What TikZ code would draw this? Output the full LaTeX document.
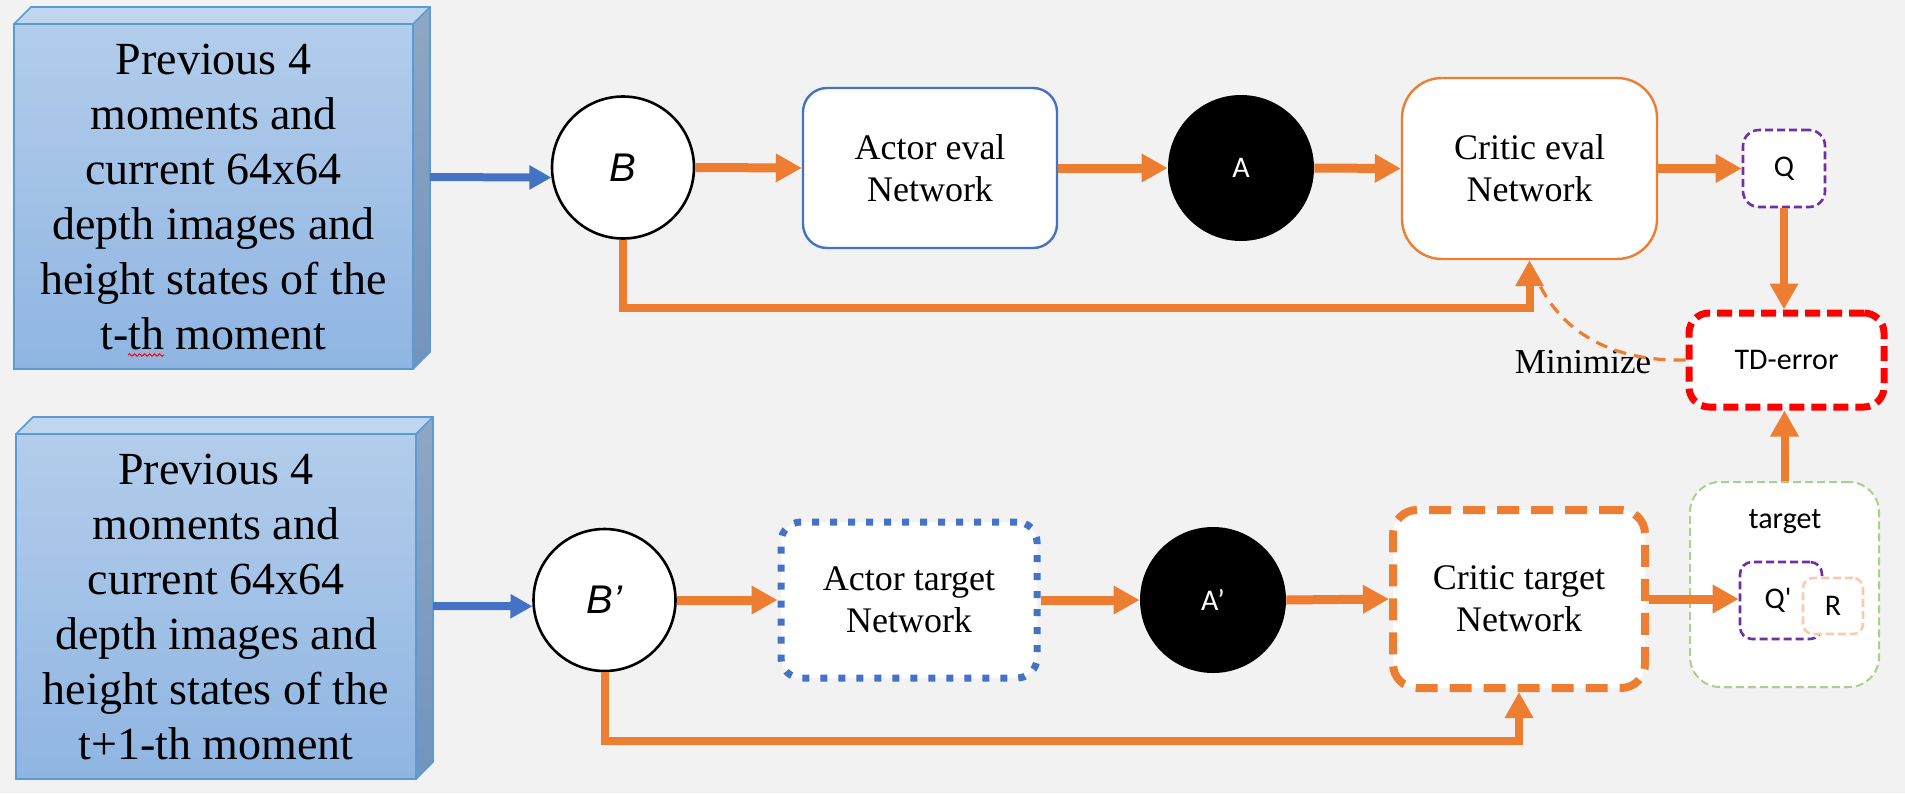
\documentclass[tikz,border=0pt]{standalone}
\usepackage{fontspec}
\setmainfont{Liberation Serif}
\newfontfamily\calib{Carlito}
\newfontfamily\arialf{Liberation Sans}
\usetikzlibrary{arrows.meta,decorations.pathmorphing}
\definecolor{bgc}{HTML}{F2F2F2}
\definecolor{ora}{HTML}{ED7D31}
\definecolor{blu}{HTML}{4472C4}
\definecolor{pur}{HTML}{7030A0}
\definecolor{grn}{HTML}{A9D18E}
\definecolor{pch}{HTML}{F8CBAD}
\definecolor{frontT}{HTML}{B3CDEB}
\definecolor{frontB}{HTML}{8FB5E2}
\definecolor{topF}{HTML}{C0D6EF}
\definecolor{sideT}{HTML}{8EA7C4}
\definecolor{sideB}{HTML}{7294BC}
\definecolor{blkedge}{HTML}{5B9BD5}
\tikzset{
  blocktext/.style={align=center,inner sep=0pt,font=\fontsize{23}{27.5}\selectfont},
  netfont/.style={align=center,font=\fontsize{18}{21}\selectfont},
  sansfont/.style={font=\calib\fontsize{15}{18}\selectfont},
  statenode/.style={circle,draw=black,line width=1.3pt,fill=white,minimum size=71pt,inner sep=0pt,
     font=\arialf\itshape\fontsize{20}{24}\selectfont},
  actnode/.style={circle,fill=black,minimum size=73pt,inner sep=0pt,text=white,
     font=\calib\fontsize{15}{18}\selectfont},
  oarr/.style={draw=ora,line width=4.5pt,-{Triangle[length=13pt,width=13.5pt]}},
  barr/.style={draw=blu,line width=4pt,-{Triangle[length=11pt,width=11.5pt]}},
  oline/.style={draw=ora,line width=4pt},
}
\begin{document}
\begin{tikzpicture}[x=0.5pt,y=-0.5pt]
\fill[bgc] (0,0) rectangle (1905,793);
\useasboundingbox (0,0) rectangle (1905,793);

% ---------- top input block ----------
\shade[top color=frontT,bottom color=frontB] (14,24) rectangle (413,369);
\fill[topF] (14,24) -- (31,7) -- (430,7) -- (413,24) -- cycle;
\shade[top color=sideT,bottom color=sideB] (413,24) -- (430,7) -- (430,352) -- (413,369) -- cycle;
\draw[blkedge,line width=0.8pt] (14,24) rectangle (413,369);
\draw[blkedge,line width=0.8pt] (14,24) -- (31,7) -- (430,7) -- (430,352) -- (413,369);
\draw[blkedge,line width=0.8pt] (413,24) -- (430,7);
\node[blocktext] (txtT) at (213.5,197) {Previous 4\\moments and\\current 64x64\\depth images and\\height states of the\\t-th moment};
\draw[red,line width=0.5pt,decorate,decoration={snake,amplitude=0.6pt,segment length=2.5pt}] (128,355) -- (164,355);
\coordinate (outT) at (430,177);

% ---------- bottom input block ----------
\shade[top color=frontT,bottom color=frontB] (16,434) rectangle (416,779);
\fill[topF] (16,434) -- (33,417) -- (433,417) -- (416,434) -- cycle;
\shade[top color=sideT,bottom color=sideB] (416,434) -- (433,417) -- (433,762) -- (416,779) -- cycle;
\draw[blkedge,line width=0.8pt] (16,434) rectangle (416,779);
\draw[blkedge,line width=0.8pt] (16,434) -- (33,417) -- (433,417) -- (433,762) -- (416,779);
\draw[blkedge,line width=0.8pt] (416,434) -- (433,417);
\node[blocktext] (txtB) at (216,607) {Previous 4\\moments and\\current 64x64\\depth images and\\height states of the\\t+1-th moment};
\coordinate (outB) at (433,606);

% ---------- top row ----------
\node[statenode] (B) at (623,167.5) {B};
\node[draw=blu,line width=1.2pt,fill=white,rounded corners=12pt,minimum width=127pt,minimum height=80pt,netfont] (actE) at (930,168) {Actor eval\\Network};
\node[actnode] (A) at (1241,168) {A};
\node[draw=ora,line width=1.2pt,fill=white,rounded corners=20pt,minimum width=127.5pt,minimum height=90.5pt,netfont] (critE) at (1529.5,168.5) {Critic eval\\Network};
\node[draw=pur,line width=1.3pt,dash pattern=on 4pt off 2pt,fill=white,rounded corners=8pt,minimum width=41pt,minimum height=38.5pt,sansfont] (Q) at (1784,168.5) {Q};
\node[draw=red,line width=3.5pt,dash pattern=on 7.5pt off 3.5pt,fill=white,rounded corners=10pt,minimum width=97.5pt,minimum height=47pt,sansfont] (TD) at (1786.5,360) {TD-error};
\node[anchor=base,font=\fontsize{17.5}{21}\selectfont,inner sep=0pt] (mini) at (1583,373) {Minimize};

% ---------- bottom row ----------
\node[statenode] (Bp) at (604.5,600) {B’};
\node[draw=blu,line width=3.5pt,dash pattern=on 3.5pt off 5.5pt,fill=white,rounded corners=10pt,minimum width=128pt,minimum height=78pt,netfont] (actT) at (909,600) {Actor target\\Network};
\node[actnode] (Ap) at (1213,600) {A’};
\node[draw=ora,line width=4pt,dash pattern=on 11pt off 6pt,fill=white,rounded corners=12pt,minimum width=126pt,minimum height=89pt,netfont] (critT) at (1519,599) {Critic target\\Network};
\node[draw=grn,line width=1pt,dash pattern=on 4pt off 2pt,fill=white,rounded corners=15pt,minimum width=94.5pt,minimum height=102.5pt] (tgt) at (1784.5,584.5) {};
\node[sansfont,inner sep=0pt] (tgtlab) at (1785,522) {target};
\node[draw=pur,line width=1.3pt,dash pattern=on 4pt off 2pt,fill=white,rounded corners=6pt,minimum width=41pt,minimum height=38.5pt] (Qp) at (1781,600.5) {};
\node[sansfont,inner sep=0pt] (Qplab) at (1778,600) {Q\char"27};
\node[draw=pch,line width=1.3pt,dash pattern=on 4pt off 2pt,fill=white,rounded corners=5pt,minimum width=30pt,minimum height=28pt,sansfont] (R) at (1833,606) {R};

% ---------- connectors ----------
\draw[barr] (outT) -- (B.188);
\draw[barr] (outB) -- (Bp.185);

\draw[oarr] (B.east) -- (actE.west);
\draw[oarr] (actE.east) -- (A.west);
\draw[oarr] (A.east) -- (critE.west);
\draw[oarr] (critE.east) -- (Q.west);
\draw[oarr,line width=4pt] (Q.south) -- (Q.south |- TD.north);

\draw[draw=ora,line width=1.6pt,dash pattern=on 6pt off 4pt] (TD.west) .. controls (1610,362) and (1556,330) .. (1534,272);

\coordinate (fbT) at (0,308);
\draw[oline,-{Triangle[length=13pt,width=13.5pt]}] (B.south) |- (critE.south |- fbT) -- (critE.south);

\draw[oarr] (Bp.east) -- (actT.west);
\draw[oarr] (actT.east) -- (Ap.west);
\draw[oarr] (Ap.east) -- (critT.west);
\draw[oarr] (critT.east) -- (critT.east -| Qp.west);
\draw[oarr,line width=4pt] (tgt.north) -- (tgt.north |- TD.south);

\coordinate (fbB) at (0,741);
\draw[oline,-{Triangle[length=13pt,width=13.5pt]}] (Bp.south) |- (critT.south |- fbB) -- (critT.south);
\end{tikzpicture}
\end{document}
